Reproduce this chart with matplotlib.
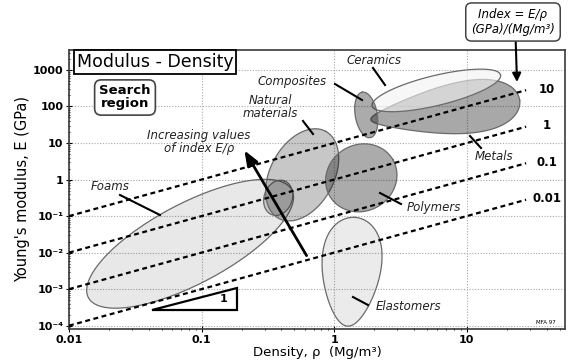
import numpy as np
import matplotlib
matplotlib.use("Agg")
import matplotlib.pyplot as plt
from matplotlib.ticker import FixedLocator, FixedFormatter, LogLocator, NullFormatter

plt.rcParams['font.family'] = ['DejaVu Sans']

# ---------------- data ----------------
x_ticks = [0.01, 0.1, 1, 10]
x_tick_labels = ["0.01", "0.1", "1", "10"]
y_ticks = [1e-4, 1e-3, 1e-2, 1e-1, 1, 10, 100, 1000]
y_tick_labels = ["10\u207b\u2074", "10\u207b\u00b3", "10\u207b\u00b2", "10\u207b\u00b9", "1", "10", "100", "1000"]

# guide lines E/rho = C
index_values = [10, 1, 0.1, 0.01]
index_labels = ["10", "1", "0.1", "0.01"]
line_rho = [0.01, 28]

# material envelopes: centre density (Mg/m3), centre modulus (GPa),
# semi-axes (in decades of density), tilt (deg on screen), egg factor, darkness
families = ["Foams", "Wood", "Natural materials", "Polymers", "Elastomers",
            "Metals", "Ceramics", "Composites"]
env_rho = [0.0819, 0.378, 0.573, 1.60, 1.343, 6.88, 5.89, 1.744]
env_E = [0.01746, 0.316, 1.346, 1.114, 0.00299, 80.5, 275.0, 58.8]
env_a = [0.868, 0.136, 0.373, 0.275, 0.411, 0.566, 0.498, 0.174]
env_b = [0.302, 0.106, 0.240, 0.250, 0.219, 0.180, 0.113, 0.083]
env_ang = [27.9, 70.0, 61.6, 30.0, 86.0, 7.4, 13.6, 100.0]
env_egg = [0.0, 0.0, 0.0, 0.0, 0.25, 0.5, 0.0, 0.0]
env_dark = [0.09, 0.14, 0.22, 0.33, 0.08, 0.34, 0.0, 0.33]

# ---------------- figure ----------------
W, H = 571, 362
fig = plt.figure(figsize=(W / 100, H / 100), dpi=100)
L, R_, B, T = 69, 565, 329, 50
ax = fig.add_axes([L / W, (H - B) / H, (R_ - L) / W, (B - T) / H])
ax.set_xscale('log')
ax.set_yscale('log')
xlim = (0.01, 55)
ylim = (8.1e-5, 3520)
ax.set_xlim(*xlim)
ax.set_ylim(*ylim)

# ratio of screen size of an x-decade to a y-decade
px_x = (R_ - L) / np.log10(xlim[1] / xlim[0])
px_y = (B - T) / np.log10(ylim[1] / ylim[0])
RATIO = px_x / px_y


def envelope(i):
    t = np.linspace(0, 2 * np.pi, 300)
    X = env_a[i] * np.cos(t)
    Y = env_b[i] * np.sin(t) * (1 + env_egg[i] * np.cos(t))
    th = np.deg2rad(env_ang[i])
    xr = X * np.cos(th) - Y * np.sin(th)
    yr = X * np.sin(th) + Y * np.cos(th)
    lx = np.log10(env_rho[i]) + xr
    ly = np.log10(env_E[i]) + yr * RATIO
    return 10 ** lx, 10 ** ly


ax.grid(True, which='major', ls=(0, (1, 1.5)), color='#a8a8a8', lw=0.8)
ax.set_axisbelow(True)

for i, name in enumerate(families):
    xs, ys = envelope(i)
    if name == "Ceramics":
        ax.fill(xs, ys, facecolor='#f3f3f3', alpha=0.6, edgecolor='none', zorder=2 + i * 0.1)
    else:
        ax.fill(xs, ys, facecolor='black', alpha=env_dark[i], edgecolor='none', zorder=2 + i * 0.1)
    ax.plot(xs, ys, color='#6a6a6a', lw=0.9, zorder=2.05 + i * 0.1)

# index guide lines
rr = np.array(line_rho)
for c, lab in zip(index_values, index_labels):
    ax.plot(rr, c * rr, color='black', lw=1.6, ls=(0, (2.2, 1.6)), zorder=4)
    ax.text(40, c * 30, lab, fontsize=8.5, fontweight='bold', ha='center', va='center', zorder=5)

# ticks
ax.xaxis.set_major_locator(FixedLocator(x_ticks))
ax.xaxis.set_major_formatter(FixedFormatter(x_tick_labels))
ax.yaxis.set_major_locator(FixedLocator(y_ticks))
ax.yaxis.set_major_formatter(FixedFormatter(y_tick_labels))
ax.xaxis.set_minor_locator(LogLocator(base=10, subs=np.arange(2, 10), numticks=20))
ax.yaxis.set_minor_locator(LogLocator(base=10, subs=np.arange(2, 10), numticks=20))
ax.xaxis.set_minor_formatter(NullFormatter())
ax.yaxis.set_minor_formatter(NullFormatter())
ax.tick_params(which='major', direction='inout', length=4, width=0.8, labelsize=8, pad=2)
ax.tick_params(which='minor', direction='inout', length=2, width=0.6)
for lbl in ax.get_xticklabels() + ax.get_yticklabels():
    lbl.set_fontweight('bold')
for s in ax.spines.values():
    s.set_color('#3a3a3a')
    s.set_linewidth(1.2)

ax.set_xlabel("Density, \u03c1  (Mg/m\u00b3)", fontsize=9.5, labelpad=1)
ax.set_ylabel("Young's modulus, E (GPa)", fontsize=10.5, labelpad=2)


def fx(px):
    return (px - L) / (R_ - L)


def fy(py):
    return (B - py) / (B - T)


lab_kw = dict(fontsize=8.5, style='italic', ha='center', va='center', color='#222222', zorder=6,
              transform=ax.transAxes)
labels = [("Ceramics", 374, 60, (373, 68), (385, 85)),
          ("Composites", 292, 81, (335, 84), (362, 100)),
          ("Natural\nmaterials", 270, 107, (303, 121), (313, 134)),
          ("Foams", 110, 187, (120, 195), (160, 215)),
          ("Polymers", 434, 207, (380, 193), (401, 204)),
          ("Elastomers", 408, 307, (353, 297), (368, 305)),
          ("Metals", 494, 156, (470, 136), (481, 148))]
for txt, x, y, p0, p1 in labels:
    ax.text(fx(x), fy(y), txt, linespacing=0.95, **lab_kw)
    ax.plot([fx(p0[0]), fx(p1[0])], [fy(p0[1]), fy(p1[1])], color='black', lw=1.5,
            transform=ax.transAxes, zorder=6)

ax.text(fx(199), fy(142), "Increasing values\nof index E/\u03c1", linespacing=1.0, **lab_kw)
ax.annotate('', xy=(fx(243), fy(148)), xytext=(fx(308), fy(258)), xycoords='axes fraction',
            textcoords='axes fraction',
            arrowprops=dict(arrowstyle='-|>,head_length=0.9,head_width=0.35', lw=2, color='black'),
            zorder=7)

# title box
ax.text(fx(155), fy(62), "Modulus - Density", fontsize=12.5, ha='center', va='center',
        transform=ax.transAxes, zorder=8,
        bbox=dict(boxstyle='square,pad=0.15', fc='white', ec='black', lw=1.3))
ax.text(fx(125), fy(97.5), "Search\nregion", fontsize=9.5, fontweight='bold', ha='center',
        va='center', linespacing=1.0, transform=ax.transAxes, zorder=8,
        bbox=dict(boxstyle='round,pad=0.35,rounding_size=0.5', fc='white', ec='#444444', lw=1.2))

# index box and arrow
ax.annotate("Index = E/\u03c1\n(GPa)/(Mg/m\u00b3)", xy=(fx(517), fy(82)), xytext=(fx(513), fy(22)),
            xycoords='axes fraction', textcoords='axes fraction', fontsize=8.5, style='italic',
            ha='center', va='center', linespacing=1.15, annotation_clip=False,
            bbox=dict(boxstyle='round,pad=0.45,rounding_size=0.5', fc='white', ec='#444444', lw=1.1),
            arrowprops=dict(arrowstyle='-|>,head_length=0.6,head_width=0.3', lw=1.5, color='black',
                            shrinkA=0, shrinkB=0, relpos=(0.53, 0.0)), zorder=8)

# slope triangle
tri_x = [fx(152), fx(237), fx(237), fx(152)]
tri_y = [fy(310), fy(288), fy(310), fy(310)]
ax.fill(tri_x, tri_y, facecolor='white', edgecolor='black', lw=1.6, transform=ax.transAxes, zorder=6)
ax.text(fx(224), fy(299), "1", fontsize=8, fontweight='bold', ha='center', va='center',
        transform=ax.transAxes, zorder=7)

ax.text(fx(546), fy(323), "MFA 97", fontsize=4, ha='center', va='center', transform=ax.transAxes)

fig.savefig("out.png", dpi=100)
